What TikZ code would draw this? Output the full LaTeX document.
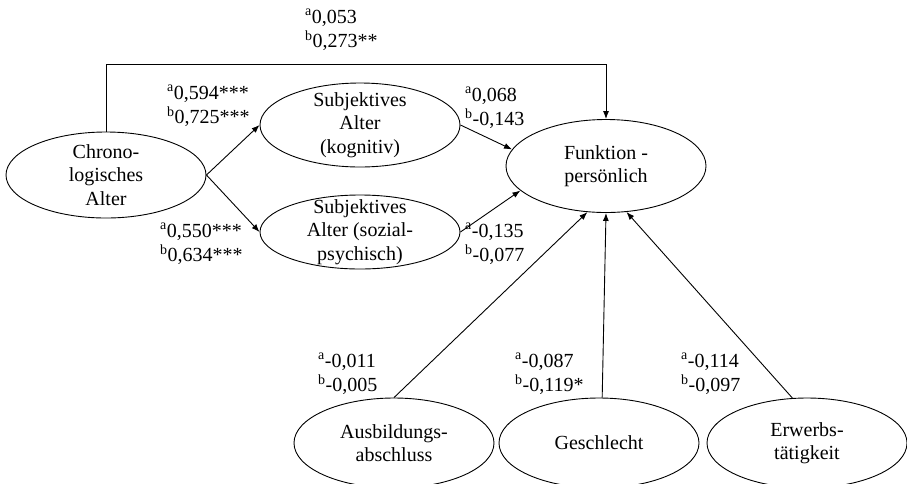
\documentclass[tikz,border=0pt]{standalone}
\usepackage{fontspec}
\setmainfont{Liberation Serif}
\usetikzlibrary{shapes.geometric,arrows.meta}

\tikzset{
  latent/.style={ellipse, draw, line width=0.9pt, minimum width=200pt, inner sep=0pt},
  vartext/.style={align=center, inner sep=0pt, font=\fontsize{20}{23.5}\selectfont},
  coef/.style={anchor=west, align=left, inner sep=0pt, font=\fontsize{20}{24.5}\selectfont},
  effect/.style={-{Latex[length=8pt,width=6pt]}, line width=0.9pt},
}

\begin{document}
\begin{tikzpicture}[x=1pt,y=-1pt]
        % Keep the page the size of the figure
        \useasboundingbox (0,0) rectangle (907,483);

        % Height of the bottom row
        \def\rowy{443}

        % Draw the age variables
        \node[latent, minimum height=86pt] (chrono) at (106,175) {};
        \node[vartext] (chronotext) at (chrono) {Chrono-\\logisches\\Alter};
        \node[latent, minimum height=84pt] (kog) at (360,125) {};
        \node[vartext] (kogtext) at (kog) {Subjektives\\Alter\\(kognitiv)};
        \node[latent, minimum height=74pt] (soz) at (360,232) {};
        \node[vartext] (soztext) at (soz) {Subjektives\\Alter (sozial-\\psychisch)};

        % Draw the outcome
        \node[latent, minimum height=93pt] (funk) at (606,166) {};
        \node[vartext] (funktext) at (funk) {Funktion -\\persönlich};

        % Draw the controls and connect them to the outcome
        \foreach \name/\xpos/\from/\to/\txt in {ausb/394/90/248/{Ausbildungs-\\abschluss},
            gesch/599/86/270/{Geschlecht},
            erw/807/108/294/{Erwerbs-\\tätigkeit}} {
          \node[latent, minimum height=90pt] (\name) at (\xpos,\rowy) {};
          \node[vartext] (\name text) at (\name) {\txt};
          \draw[effect] (\name.\from) -- (funk.\to);
        }

        % Paths from the age variables
        \draw[effect] (chrono.north) -- ++(0,-67) -| (funk.north);
        \draw[effect] (chrono.east) -- (kog.west);
        \draw[effect] (chrono.east) -- (soz.west);
        \draw[effect] (kog.east) -- (funk.170);
        \draw[effect] (soz.east) -- (funk.196);

        % Coefficients
        \node[coef] (c-direct) at (305,30) {\textsuperscript{a}0,053\\\textsuperscript{b}0,273**};
        \node[coef] (c-kog) at (167,106) {\textsuperscript{a}0,594***\\\textsuperscript{b}0,725***};
        \node[coef] (c-soz) at (160,244) {\textsuperscript{a}0,550***\\\textsuperscript{b}0,634***};
        \node[coef] (c-kogfunk) at (465,108) {\textsuperscript{a}0,068\\\textsuperscript{b}-0,143};
        \node[coef] (c-sozfunk) at (465,244) {\textsuperscript{a}-0,135\\\textsuperscript{b}-0,077};
        \node[coef] (c-ausb) at (318,374) {\textsuperscript{a}-0,011\\\textsuperscript{b}-0,005};
        \node[coef] (c-gesch) at (515,374) {\textsuperscript{a}-0,087\\\textsuperscript{b}-0,119*};
        \node[coef] (c-erw) at (681,374) {\textsuperscript{a}-0,114\\\textsuperscript{b}-0,097};
      \end{tikzpicture}
\end{document}
